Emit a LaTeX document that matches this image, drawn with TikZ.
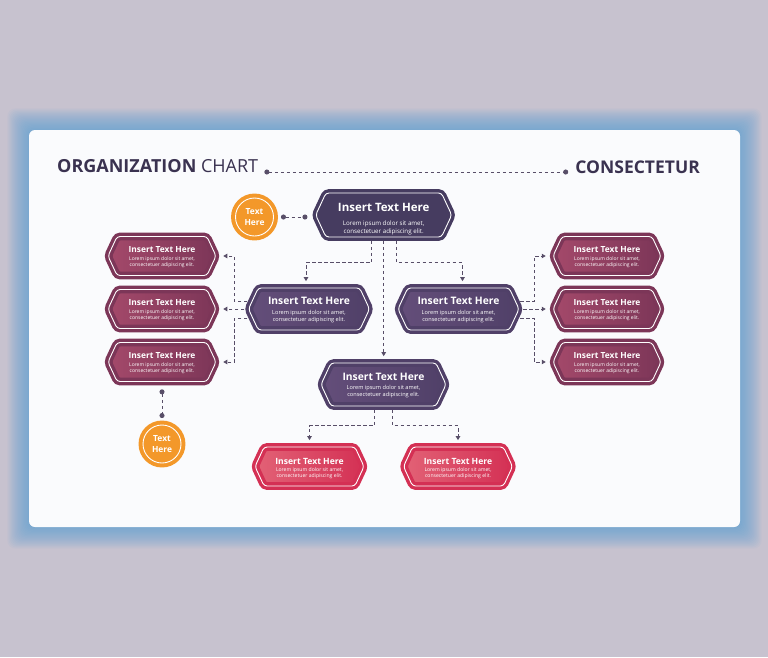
\documentclass[tikz,border=0pt]{standalone}
\usepackage{fontspec}
\setmainfont{Open Sans}
\usepackage{tikz}
\usetikzlibrary{arrows.meta,positioning,calc,shapes.symbols}

\definecolor{bgC}{RGB}{199,194,207}
\definecolor{glowC}{RGB}{86,160,212}
\definecolor{cardC}{RGB}{250,251,253}
\definecolor{titleC}{RGB}{58,50,80}
\definecolor{lineC}{RGB}{88,78,104}
\definecolor{topC}{RGB}{70,60,96}
\definecolor{midA}{RGB}{100,78,122}
\definecolor{midB}{RGB}{80,64,104}
\definecolor{sideA}{RGB}{164,73,106}
\definecolor{sideB}{RGB}{124,54,88}
\definecolor{botA}{RGB}{226,98,118}
\definecolor{botB}{RGB}{212,48,84}
\definecolor{badgeC}{RGB}{243,152,42}

% title size, gap below title, strut height
\newcommand{\boxtext}[3]{{\fontsize{#1}{#1}\selectfont\bfseries\rule{0pt}{#3}Insert Text Here}\\[#2]%
  Lorem ipsum dolor sit amet,\\consectetuer adipiscing elit.}

\begin{document}
\begin{tikzpicture}[x=1pt,y=-1pt,
    hexbox/.style={signal, signal to=east and west, signal pointer angle=130,
      rounded corners=3pt, line width=3.4pt, double=white, double distance=0.9pt,
      outer sep=3.85pt, inner sep=0pt, align=center, text=white},
    topbox/.style={hexbox, draw=topC, fill=topC, minimum width=136pt, minimum height=44pt,
      font=\fontsize{6.2}{8.3}\selectfont},
    midbox/.style={hexbox, draw=midB, left color=midA, right color=midB, minimum width=121pt, minimum height=42pt,
      font=\fontsize{5.6}{7}\selectfont},
    sidebox/.style={hexbox, draw=sideB, left color=sideA, right color=sideB, minimum width=108pt, minimum height=39pt,
      font=\fontsize{5}{5.7}\selectfont},
    botbox/.style={hexbox, draw=botB, left color=botA, right color=botB, minimum width=109pt, minimum height=39pt,
      font=\fontsize{5.1}{5.8}\selectfont},
    badge/.style={circle, draw=badgeC, fill=badgeC, line width=4pt, double=white, double distance=0.9pt,
      minimum size=38pt, inner sep=0pt, outer sep=4.45pt, align=center, text=white,
      font=\fontsize{8.4}{10.7}\selectfont\bfseries},
    conn/.style={draw=lineC, line width=0.9pt, dash pattern=on 3.5pt off 2.5pt,
      -{Triangle[length=4pt,width=4.5pt]}, shorten >=3pt},
    dotline/.style={draw=lineC, line width=0.9pt, dash pattern=on 3.5pt off 2.5pt,
      {Circle[length=5pt]}-{Circle[length=5pt]}}
  ]
  \useasboundingbox (0,0) rectangle (768,657);
  \fill[bgC] (0,0) rectangle (768,657);

  % card with glow
  \foreach \g in {1,...,18}
    \fill[glowC, opacity=0.05, rounded corners=8pt] (29-1.2*\g,130-1.2*\g) rectangle (740+1.2*\g,527+1.2*\g);
  \fill[cardC, rounded corners=6pt] (29,130) rectangle (740,527);

  % heading
  \node[anchor=base west, inner sep=0pt, text=titleC, font=\fontsize{18}{20}\selectfont] (title) at (57,172)
    {\textbf{ORGANIZATION} CHART};
  \node[anchor=base east, inner sep=0pt, text=titleC, font=\fontsize{17.5}{20}\selectfont\bfseries] (cons) at (700,173)
    {CONSECTETUR};
  \draw[dotline, shorten <=6pt, shorten >=7pt] (title.base east) -- (title.base east -| cons.base west);

  % boxes
  \node[topbox] (top) at (383.7,215) {\boxtext{11.5}{6pt}{16.4pt}};
  \node[midbox] (ml) at (309,309) {\boxtext{10.3}{2.6pt}{9.5pt}};
  \node[midbox] (mr) at (458.5,309) {\boxtext{10.3}{2.6pt}{9.5pt}};
  \node[midbox, minimum width=125pt, minimum height=43pt] (mb) at (383.5,384.5) {\boxtext{10.3}{2.6pt}{9.5pt}};

  \node[sidebox] (lt) at (162,256) {\boxtext{8.4}{1.7pt}{8.1pt}};
  \node[sidebox] (lm) at (162,309) {\boxtext{8.4}{1.7pt}{8.1pt}};
  \node[sidebox] (lb) at (162,362) {\boxtext{8.4}{1.7pt}{8.1pt}};
  \node[sidebox] (rt) at (607,256) {\boxtext{8.4}{1.7pt}{8.1pt}};
  \node[sidebox] (rm) at (607,309) {\boxtext{8.4}{1.7pt}{8.1pt}};
  \node[sidebox] (rb) at (607,362) {\boxtext{8.4}{1.7pt}{8.1pt}};

  \node[botbox] (bl) at (309.5,466.5) {\boxtext{8.6}{1.8pt}{10.3pt}};
  \node[botbox] (br) at (458,466.5) {\boxtext{8.6}{1.8pt}{10.3pt}};

  % badges
  \node[badge] (tb1) at (254.5,217) {Text\\Here};
  \node[badge] (tb2) at (162,444) {Text\\Here};
  \draw[dotline, shorten <=3pt, shorten >=4pt] (tb1.east) -- (tb1.east -| top.west);
  \draw[dotline, shorten <=4pt, shorten >=2.5pt] (lb.south) -- (tb2.north);

  % top to middle
  \draw[conn] ([xshift=-12pt]top.south) -- ++(0,22) -| ([xshift=-3pt]ml.north);
  \draw[conn] (top.south) -- (top.south |- mb.north);
  \draw[conn] ([xshift=13pt]top.south) -- ++(0,22) -| ([xshift=4pt]mr.north);

  % middle to sides
  \draw[conn] ([xshift=3pt,yshift=8pt]ml.west) -- ++(-13,0) |- (lt.east);
  \draw[conn] (ml.west) -- (lm.east);
  \draw[conn] ([xshift=3pt,yshift=-9pt]ml.west) -- ++(-13,0) |- (lb.east);
  \draw[conn] ([xshift=-3pt,yshift=8pt]mr.east) -- ++(14,0) |- (rt.west);
  \draw[conn] (mr.east) -- (rm.west);
  \draw[conn] ([xshift=-3pt,yshift=-9pt]mr.east) -- ++(14,0) |- (rb.west);

  % middle to bottom
  \draw[conn] ([xshift=-9pt]mb.south) -- ++(0,16) -| (bl.north);
  \draw[conn] ([xshift=9pt]mb.south) -- ++(0,16) -| (br.north);
\end{tikzpicture}
\end{document}
